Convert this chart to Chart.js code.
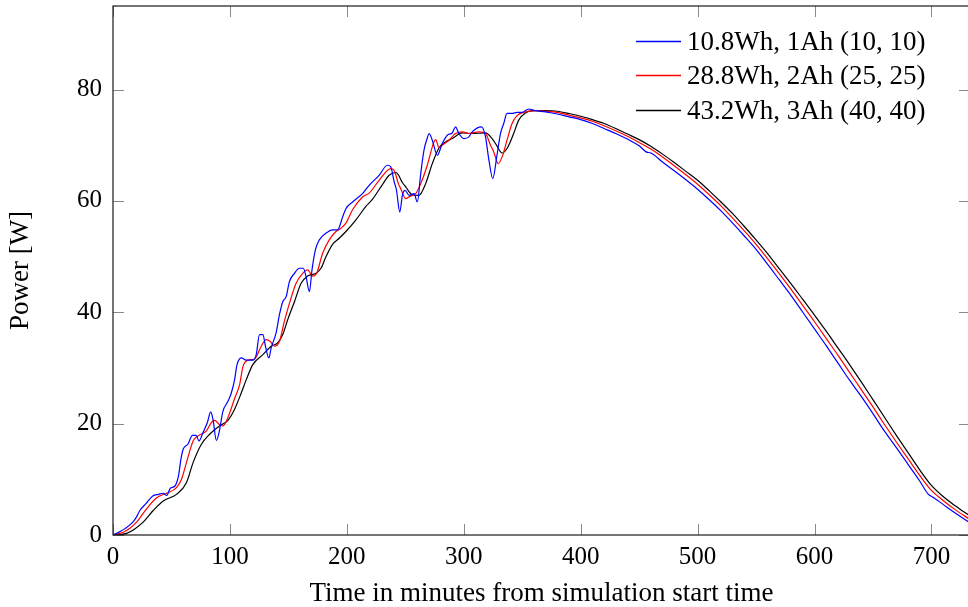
<!DOCTYPE html>
<html>
<head>
<meta charset="utf-8">
<script src="https://cdn.jsdelivr.net/npm/chart.js@4.4.1/dist/chart.umd.min.js"></script>
<style>
  html, body { margin: 0; padding: 0; background: #fff; overflow: hidden; width: 968px; height: 607px; }
  #wrap { width: 972px; height: 607px; }
</style>
</head>
<body>
<div id="wrap"><canvas id="chart" width="972" height="607"></canvas></div>
<script>
// Battery configurations compared in the simulation
const seriesLabels = [
  '10.8Wh, 1Ah (10, 10)',
  '28.8Wh, 2Ah (25, 25)',
  '43.2Wh, 3Ah (40, 40)'
];
const seriesColors = ['#0000ff', '#ff0000', '#000000'];

// 10.8Wh pack: delivered power [W] against minutes since start
const smallMinutes = [0,5,10,17,20,23,28,34,39,43,46,49,53,56,58,60,64,68,71,73.6,77,80.7,83.6,85.5,88.4,90.7,94,98.3,101.2,104,106,109.7,114,119.6,122.5,125.3,128.2,130.4,133.3,135.3,139.5,142.4,145.2,148.1,150.9,155.2,159.4,162.8,165.1,168,170.2,173.1,176.5,182.2,187.8,192.1,196.4,199.2,204.9,213.4,219.1,227.6,234.7,237.6,240.4,242.4,245.3,247.5,249.8,253.2,257.5,260.3,263.2,266,268.8,270.3,273.1,277.4,281.6,285.9,290.1,293,295.8,300.1,304.4,307.2,315.2,318.6,321.4,324.8,328.5,331.4,334.2,337,341.3,345.6,349.8,355.5,361.2,370,380,390,400,410,420,430,440,450,456,460,470,480,490,500,510,520,530,540,550,560,570,580,590,600,610,620,630,640,650,660,670,680,690,697,702,710,720,733];
const smallPower = [0,0.5,1.1,2.3,3.2,4.4,5.6,7.0,7.3,7.5,7.1,8.4,8.8,10.6,13.5,15.4,16.3,17.9,17.9,16.9,18.4,20.2,22.1,20.8,17.0,18.4,22.2,24.0,25.5,27.9,30.5,31.8,31.4,31.4,32.4,36.0,36.0,33.9,31.8,33.6,36.3,39.6,41.9,42.8,45.5,47.0,47.9,47.9,46.4,43.7,47.6,51.2,53.0,54.2,54.8,54.8,57.1,58.6,59.8,61.3,62.8,64.6,66.4,66.1,63.5,62.0,58.0,61.0,61.9,61.0,61.3,59.8,64.9,69.1,71.3,72.1,70.9,68.2,70.3,71.8,72.2,73.3,72.1,71.2,71.5,72.4,73.3,71.5,67.5,64.0,68.3,72.1,73.9,75.7,75.7,75.9,75.9,76.5,76.2,76.0,75.6,75.1,74.6,73.9,73.0,72.1,71.1,69.9,68.8,68.6,67.0,65.4,63.8,62.1,60.2,58.2,56.0,53.7,51.3,48.6,45.8,43.0,40.0,37.0,34.0,30.9,27.8,24.9,21.8,18.6,15.7,12.7,9.7,7.4,6.7,5.5,4.0,2.2];

// 28.8Wh pack
const mediumMinutes = [0,8.8,15,20.2,28.7,37.3,45.8,54.3,58.6,62.8,68.5,72.7,79.9,84.1,87,90.7,94,98.3,104,108.3,111.1,115.4,121.1,126.8,131,134.4,138.1,142.4,146.6,150.9,156.6,162.3,166.5,170.8,174.2,179.3,185,190.7,195,199.2,204.9,213.4,219.1,227.6,237.6,240.4,244.1,246.1,250.4,254.7,258.9,263.2,268.8,274.5,276,278.8,281.6,287.3,293,298.7,304.4,312.9,318.6,322.9,325.7,329.4,332.8,337,341.3,345.6,351.3,361.2,370,380,390,400,410,420,430,440,450,460,470,480,490,500,510,520,530,540,550,560,570,580,590,600,610,620,630,640,650,660,670,680,690,700,710,720,733];
const mediumPower = [0,0.5,1.3,2.3,4.7,6.7,7.5,8.5,10.0,13.0,16.9,17.8,18.7,20.2,20.6,19.9,19.6,21.1,24.5,27.0,30.2,31.4,31.6,33.9,35.1,34.8,33.9,34.8,38.4,41.6,45.2,47.0,47.6,46.5,47.0,50.6,53.0,54.5,55.1,56.0,58.4,60.7,61.4,63.7,65.8,65.5,63.1,62.2,60.4,60.9,61.3,63.1,66.4,70.6,71.0,69.6,70.0,70.9,72.1,72.4,72.1,72.4,72.1,70.0,68.8,66.7,67.9,70.9,73.9,75.3,75.9,76.2,76.1,75.9,75.4,74.9,74.3,73.5,72.6,71.6,70.5,69.3,67.9,66.3,64.7,63.0,61.1,59.1,56.9,54.6,52.2,49.6,46.9,44.1,41.2,38.3,35.3,32.3,29.2,26.1,23.0,19.8,16.7,13.7,10.7,8.0,6.2,4.6,2.8];

// 43.2Wh pack
const largeMinutes = [0,11.7,18,25.8,34.4,42.9,54.3,62.8,68.5,75.6,82.7,91.2,98.3,104,109.7,114,119.6,128.2,135.3,140.9,145.2,149.5,155.2,160.9,166.5,173.7,177.9,182.2,187.8,193.5,199.2,207.8,216.3,222,230,236.2,241.9,244,247.5,250.4,256,261.7,267.4,273.1,278.8,284.5,290.1,298.7,307.2,318.6,324.2,328,332.8,337,342.7,347,352.7,361.2,370,380,390,400,410,420,430,440,450,460,470,480,490,500,510,520,530,540,550,560,570,580,590,600,610,620,630,640,650,660,670,680,690,700,710,720,733];
const largePower = [0,0.3,1.0,2.3,4.4,6.1,7.3,9.4,13.0,16.3,18.1,19.6,20.6,22.6,25.5,27.9,30.6,32.4,33.9,34.5,36.0,38.7,41.9,45.2,46.5,47.0,47.9,50.0,52.2,53.3,54.5,56.6,59.0,60.3,62.8,64.6,65.1,64.7,63.3,62.5,61.1,61.0,63.1,66.7,69.5,70.6,71.2,72.2,72.1,72.2,71.2,70.0,68.6,69.4,72.1,74.5,75.8,76.2,76.2,76.1,75.7,75.2,74.6,73.9,73.0,72.0,71.0,69.8,68.4,66.9,65.3,63.7,61.8,59.8,57.7,55.4,53.0,50.5,47.8,45.1,42.3,39.5,36.6,33.6,30.6,27.5,24.3,21.1,17.9,14.8,11.7,8.9,6.9,5.3,3.4];

// Axis ticks
const minuteTicks = [0, 100, 200, 300, 400, 500, 600, 700];
const powerTicks = [0, 20, 40, 60, 80];

const seriesMinutes = [smallMinutes, mediumMinutes, largeMinutes];
const seriesPower = [smallPower, mediumPower, largePower];

const SERIF = "'Liberation Serif', 'Times New Roman', serif";
const TICK_LEN = 11;

// Inward tick marks on all four sides plus the closed frame
const frameTicks = {
  id: 'frameTicks',
  afterDraw(chart) {
    const { ctx, chartArea: a, scales: { x, y } } = chart;
    ctx.save();
    ctx.strokeStyle = '#8a8a8a';
    ctx.lineWidth = 1;
    ctx.beginPath();
    x.ticks.forEach(t => {
      const px = Math.round(x.getPixelForValue(t.value)) + 0.5;
      ctx.moveTo(px, a.bottom); ctx.lineTo(px, a.bottom - TICK_LEN);
      ctx.moveTo(px, a.top); ctx.lineTo(px, a.top + TICK_LEN);
    });
    y.ticks.forEach(t => {
      const py = Math.round(y.getPixelForValue(t.value)) + 0.5;
      ctx.moveTo(a.left, py); ctx.lineTo(a.left + TICK_LEN, py);
      ctx.moveTo(a.right, py); ctx.lineTo(a.right - TICK_LEN, py);
    });
    ctx.stroke();
    ctx.strokeStyle = '#1a1a1a';
    ctx.lineWidth = 1.2;
    ctx.strokeRect(a.left, a.top, a.right - a.left, a.bottom - a.top);
    ctx.restore();
  }
};

// Legend in the upper right corner of the plot, without a box
const cornerLegend = {
  id: 'cornerLegend',
  afterDraw(chart) {
    const { ctx, chartArea: a } = chart;
    ctx.save();
    ctx.font = '27px ' + SERIF;
    ctx.textBaseline = 'middle';
    ctx.textAlign = 'left';
    chart.data.datasets.forEach((ds, i) => {
      const yy = Math.round(a.top + 34.5 + i * 34.6) + 0.5;
      const x0 = a.right - 334;
      ctx.strokeStyle = seriesColors[i];
      ctx.lineWidth = 1.3;
      ctx.beginPath();
      ctx.moveTo(x0, yy);
      ctx.lineTo(x0 + 45, yy);
      ctx.stroke();
      ctx.fillStyle = '#000';
      ctx.fillText(ds.label, x0 + 51, yy + 1);
    });
    ctx.restore();
  }
};

const datasets = seriesLabels.map((label, i) => ({
  label,
  data: seriesMinutes[i].map((t, k) => ({ x: t, y: seriesPower[i][k] })),
  borderColor: seriesColors[i],
  backgroundColor: seriesColors[i],
  borderWidth: 1.2,
  pointRadius: 0,
  showLine: true,
  fill: false,
  cubicInterpolationMode: 'monotone'
}));

new Chart(document.getElementById('chart'), {
  type: 'scatter',
  data: { datasets },
  options: {
    responsive: false,
    animation: false,
    devicePixelRatio: 1,
    layout: { padding: { top: 6, right: 2, left: 0, bottom: 0 } },
    plugins: { legend: { display: false }, tooltip: { enabled: false } },
    scales: {
      x: {
        type: 'linear',
        min: 0,
        max: 733,
        afterBuildTicks: s => { s.ticks = minuteTicks.map(v => ({ value: v })); },
        afterFit: s => { s.height = 72; s.paddingLeft = 0; s.paddingRight = 0; },
        grid: { display: false, drawTicks: false },
        border: { display: false },
        ticks: { color: '#000', font: { family: SERIF, size: 25 }, padding: 7, maxRotation: 0 },
        title: {
          display: true,
          text: 'Time in minutes from simulation start time',
          color: '#000',
          font: { family: SERIF, size: 27, lineHeight: 1.0 },
          padding: { top: 0, bottom: 0 }
        }
      },
      y: {
        type: 'linear',
        min: 0,
        max: 95,
        afterBuildTicks: s => { s.ticks = powerTicks.map(v => ({ value: v })); },
        afterFit: s => { s.width = 113; s.paddingTop = 0; s.paddingBottom = 0; },
        grid: { display: false, drawTicks: false },
        border: { display: false },
        ticks: { color: '#000', font: { family: SERIF, size: 25 }, padding: 11 },
        title: {
          display: true,
          text: 'Power [W]',
          color: '#000',
          font: { family: SERIF, size: 27, lineHeight: 1.2 },
          padding: { top: 5, bottom: 0 }
        }
      }
    }
  },
  plugins: [frameTicks, cornerLegend]
});
</script>
</body>
</html>
